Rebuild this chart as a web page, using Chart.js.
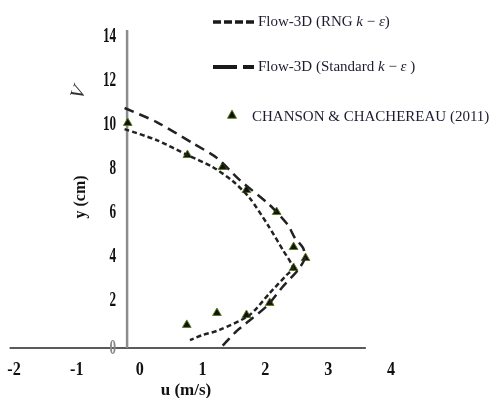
<!DOCTYPE html>
<html>
<head>
<meta charset="utf-8">
<script src="https://cdn.jsdelivr.net/npm/chart.js@4/dist/chart.umd.min.js"></script>
<style>
  html, body { margin: 0; padding: 0; background: #fff; }
  #wrap { width: 495px; height: 398px; }
</style>
</head>
<body>
<div id="wrap"><canvas id="c" width="495" height="398"></canvas></div>
<script>
// Axis tick values
const xTicks = [-2, -1, 0, 1, 2, 3, 4];
const yTicks = [0, 2, 4, 6, 8, 10, 12, 14];

// Flow-3D, RNG k-epsilon model: velocity u (m/s) vs height y (cm)
const rngU = [-0.24, 0.27, 0.76, 1.16, 1.48, 1.75, 2.04, 2.28, 2.44, 2.34, 2.07, 1.75, 1.27, 1.00, 0.80];
const rngY = [9.95, 9.45, 8.77, 8.23, 7.59, 6.82, 5.59, 4.45, 3.64, 3.32, 2.50, 1.50, 0.82, 0.59, 0.36];

// Flow-3D, standard k-epsilon model
const stdU = [-0.24, 0.27, 0.84, 1.23, 1.59, 2.07, 2.36, 2.47, 2.60, 2.63, 2.52, 2.26, 2.04, 1.70, 1.51, 1.32];
const stdY = [10.91, 10.27, 9.32, 8.64, 7.64, 6.50, 5.59, 5.00, 4.55, 4.09, 3.55, 2.73, 1.95, 1.14, 0.68, 0.10];

// Measurements, Chanson & Chachereau (2011)
const obsU = [-0.19, 0.76, 1.32, 1.70, 2.18, 2.45, 2.64, 2.45, 2.07, 1.70, 1.23, 0.75];
const obsY = [10.23, 8.77, 8.23, 7.18, 6.18, 4.59, 4.09, 3.64, 2.05, 1.50, 1.59, 1.05];

const seriesNames = ['Flow-3D (RNG k \u2212 \u03b5)', 'Flow-3D (Standard k \u2212 \u03b5 )', 'CHANSON & CHACHEREAU (2011)'];
const axisTitles = { x: 'u (m/s)', y: 'y (cm)' };

const toPoints = (xs, ys) => xs.map((x, i) => ({ x: x, y: ys[i] }));

const SERIF = '"Liberation Serif", "Times New Roman", serif';

// draw text squeezed horizontally
function drawText(ctx, text, x, y, font, sx, align, color) {
  ctx.save();
  ctx.translate(x, y);
  ctx.scale(sx, 1);
  ctx.font = font;
  ctx.fillStyle = color || '#111';
  ctx.textAlign = align;
  ctx.textBaseline = 'middle';
  ctx.fillText(text, 0, 0);
  ctx.restore();
}

// draw a run of text pieces, some italic
function drawRuns(ctx, runs, x, y, size, color) {
  let cx = x;
  ctx.save();
  ctx.fillStyle = color;
  ctx.textBaseline = 'middle';
  ctx.textAlign = 'left';
  runs.forEach(([t, italic]) => {
    ctx.font = (italic ? 'italic ' : '') + size + 'px ' + SERIF;
    ctx.fillText(t, cx, y);
    cx += ctx.measureText(t).width;
  });
  ctx.restore();
}

function triangle(ctx, x, y, r) {
  ctx.save();
  ctx.beginPath();
  ctx.moveTo(x, y - r);
  ctx.lineTo(x + r * 0.9, y + r * 0.65);
  ctx.lineTo(x - r * 0.9, y + r * 0.65);
  ctx.closePath();
  ctx.fillStyle = '#111';
  ctx.fill();
  ctx.lineWidth = 1;
  ctx.strokeStyle = '#5a7d1e';
  ctx.stroke();
  ctx.restore();
}

const profileDecor = {
  id: 'profileDecor',
  beforeDatasetsDraw(chart) {
    const { ctx, scales: { x, y } } = chart;
    const y0 = y.getPixelForValue(0);
    ctx.save();
    // horizontal axis through y = 0
    ctx.strokeStyle = '#5a5a5a';
    ctx.lineWidth = 2;
    ctx.beginPath();
    ctx.moveTo(x.getPixelForValue(-2.07), y0);
    ctx.lineTo(x.getPixelForValue(3.6), y0);
    ctx.stroke();
    // vertical axis
    const xa = x.getPixelForValue(-0.2);
    ctx.strokeStyle = '#8c8c8c';
    ctx.lineWidth = 2.5;
    ctx.beginPath();
    ctx.moveTo(xa, y.getPixelForValue(14.45));
    ctx.lineTo(xa, y0);
    ctx.stroke();
    ctx.restore();
  },
  afterDraw(chart) {
    const { ctx, scales: { x, y } } = chart;
    const xa = x.getPixelForValue(-0.2);
    const y0 = y.getPixelForValue(0);

    // y tick labels beside the vertical axis
    yTicks.forEach(v => {
      const py = y.getPixelForValue(v) - (v === 0 ? 0 : 4);
      drawText(ctx, String(v), xa - 11, py, 'bold 22px ' + SERIF, 0.6, 'right', v === 0 ? '#888' : '#111');
    });
    // x tick labels under the horizontal axis
    xTicks.forEach(v => {
      drawText(ctx, String(v), x.getPixelForValue(v), y0 + 22, 'bold 19px ' + SERIF, 0.85, 'center', '#111');
    });

    // axis titles
    ctx.save();
    ctx.translate(81, 197);
    ctx.rotate(-Math.PI / 2);
    drawText(ctx, axisTitles.y, 0, 0, 'bold 16px ' + SERIF, 1, 'center', '#111');
    ctx.restore();
    drawText(ctx, axisTitles.x, 186, 391, 'bold 17px ' + SERIF, 1, 'center', '#111');

    // small velocity symbol
    ctx.save();
    ctx.translate(79, 93);
    ctx.rotate(-1.2);
    ctx.filter = 'blur(0.5px)';
    drawText(ctx, 'V', 0, 0, 'italic 20px ' + SERIF, 1, 'center', '#333');
    ctx.restore();

    // legend
    ctx.save();
    ctx.strokeStyle = '#1a1a1a';
    ctx.lineWidth = 3.5;
    ctx.setLineDash([8, 3]);
    ctx.beginPath(); ctx.moveTo(213, 22); ctx.lineTo(256, 22); ctx.stroke();
    ctx.lineWidth = 4;
    ctx.setLineDash([24, 6]);
    ctx.beginPath(); ctx.moveTo(213, 67); ctx.lineTo(254, 67); ctx.stroke();
    ctx.restore();
    triangle(ctx, 232, 115, 5);

    const legendColor = '#1c1c30';
    drawRuns(ctx, [['Flow-3D (RNG ', false], ['k', true], [' \u2212 ', false], ['\u03b5', true], [')', false]], 258, 22, 15, legendColor);
    drawRuns(ctx, [['Flow-3D (Standard ', false], ['k', true], [' \u2212 ', false], ['\u03b5', true], [' )', false]], 258, 67, 15, legendColor);
    drawRuns(ctx, [[seriesNames[2], false]], 252, 117, 15, legendColor);
  }
};

new Chart(document.getElementById('c'), {
  type: 'scatter',
  data: {
    datasets: [
      {
        label: seriesNames[0],
        data: toPoints(rngU, rngY),
        showLine: true,
        borderColor: '#222',
        borderWidth: 2.5,
        borderDash: [5, 3],
        pointRadius: 0,
        tension: 0.25,
        fill: false,
        clip: false
      },
      {
        label: seriesNames[1],
        data: toPoints(stdU, stdY),
        showLine: true,
        borderColor: '#222',
        borderWidth: 2.5,
        borderDash: [10, 6],
        pointRadius: 0,
        tension: 0.25,
        fill: false,
        clip: false
      },
      {
        label: seriesNames[2],
        data: toPoints(obsU, obsY),
        showLine: false,
        pointStyle: 'triangle',
        pointRadius: 5,
        backgroundColor: '#111',
        borderColor: '#5a7d1e',
        borderWidth: 1,
        clip: false
      }
    ]
  },
  options: {
    responsive: false,
    animation: false,
    layout: { padding: { left: 14, right: 104, top: 29, bottom: 50 } },
    plugins: { legend: { display: false }, tooltip: { enabled: false } },
    scales: {
      x: { type: 'linear', min: -2, max: 4, display: false },
      y: { type: 'linear', min: 0, max: 14.5, display: false }
    }
  },
  plugins: [profileDecor]
});
</script>
</body>
</html>
